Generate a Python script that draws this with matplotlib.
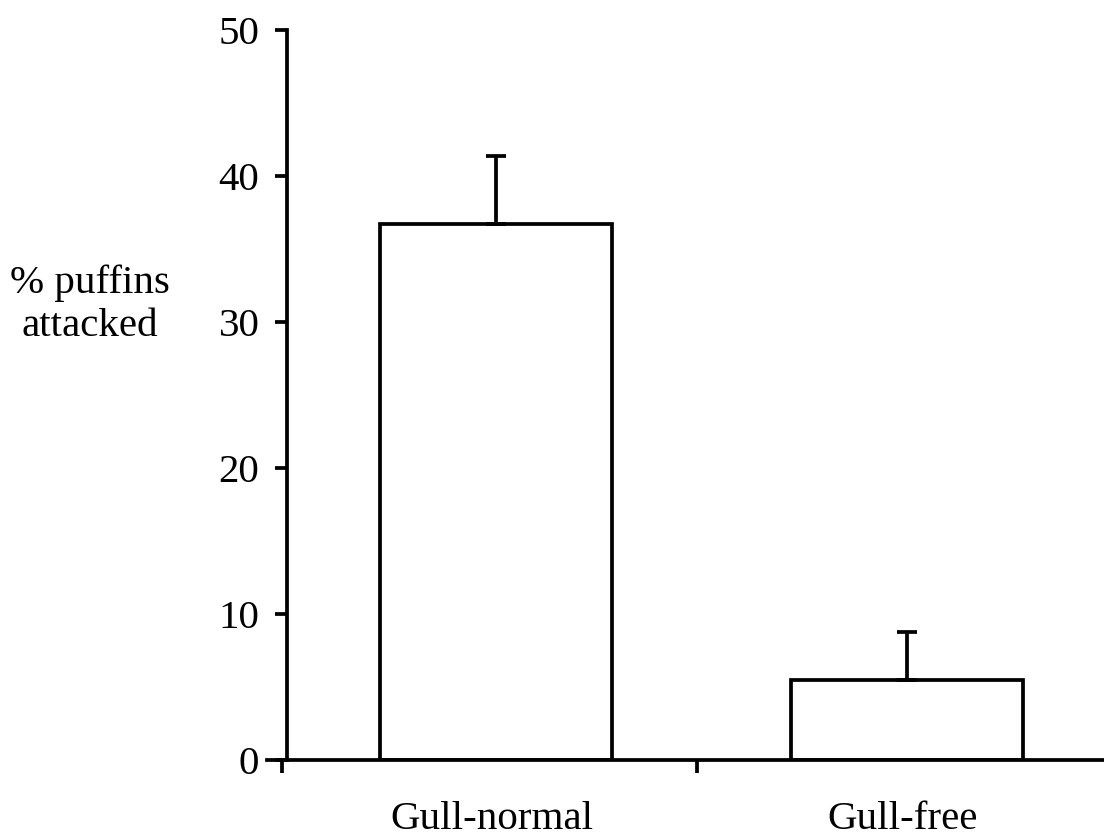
import matplotlib
matplotlib.use("Agg")
import matplotlib.pyplot as plt
from matplotlib.transforms import blended_transform_factory

# Data
groups = ["Gull-normal", "Gull-free"]
pct_attacked = [36.7, 5.5]
sem_upper = [4.7, 3.3]
y_ticks = [0, 10, 20, 30, 40, 50]
divider_ticks = [-0.52, 0.49]

plt.rcParams["font.family"] = ["Liberation Serif", "DejaVu Serif"]
fs = 29.5
lw = 2.7

fig = plt.figure(figsize=(11.04, 8.4), dpi=100)
ax = fig.add_axes([267 / 1104, 80 / 840, 837 / 1104, 730 / 840])

x = list(range(len(groups)))
ax.bar(x, pct_attacked, width=0.565, color="white", edgecolor="black",
       linewidth=lw, zorder=2)
ax.errorbar(x, pct_attacked, yerr=[[0] * len(sem_upper), sem_upper],
            fmt="none", ecolor="black", elinewidth=lw, capsize=7.5,
            capthick=lw, zorder=3)

ax.set_xlim(-0.557, 1.479)
ax.set_ylim(0, 50)

for side in ("top", "right"):
    ax.spines[side].set_visible(False)
ax.spines["left"].set_position(("data", -0.508))
ax.spines["left"].set_bounds(0, 50)
ax.spines["left"].set_linewidth(lw)
ax.spines["bottom"].set_linewidth(lw)

ax.set_yticks(y_ticks)
ax.set_yticklabels([str(v) for v in y_ticks], fontsize=fs)
ax.tick_params(axis="y", direction="out", length=9, width=lw, pad=11)

# Category names sit under each bar; short ticks mark the group boundaries
ax.set_xticks([])
ax.set_xticks(divider_ticks, minor=True)
ax.tick_params(axis="x", which="minor", direction="out", length=9, width=lw,
               labelbottom=False)
trans = blended_transform_factory(ax.transData, fig.transFigure)
for xi, name in zip(x, groups):
    ax.text(xi - 0.01, 1 - 829 / 840, name, transform=trans, fontsize=fs,
            ha="center", va="baseline", clip_on=False)

fig.text(90 / 1104, 1 - 305 / 840, "% puffins\nattacked", fontsize=fs,
         ha="center", va="center", linespacing=1.2)

fig.savefig("out.png", dpi=100, facecolor="white")
